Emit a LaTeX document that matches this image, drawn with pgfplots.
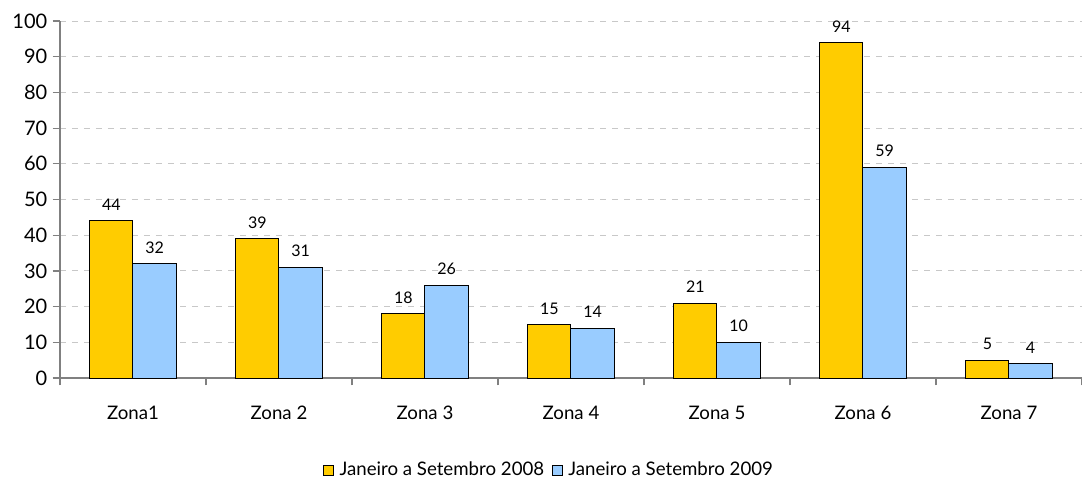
\documentclass[border=0pt]{standalone}
\usepackage{pgfplots}
\pgfplotsset{compat=1.18}
\usepackage{fontspec}
\setmainfont{Lato}
\definecolor{yel}{HTML}{FFCC00}
\definecolor{blu}{HTML}{99CCFF}
\definecolor{gridc}{HTML}{C8C8C8}
\definecolor{axc}{HTML}{808080}
\begin{document}
\begin{tikzpicture}[x=0.75pt,y=0.75pt]
\begin{axis}[
  at={(0,0)}, anchor=south west,
  scale only axis,
  width=766.5pt, height=267.75pt,
  xmin=-0.5, xmax=6.5, ymin=0, ymax=100,
  ybar=0pt, bar width=0.295,
  axis x line*=bottom, axis y line*=left,
  axis line style={axc, line width=0.9pt, -},
  xtick={-0.5,0.5,...,6.5},
  x tick label as interval,
  xticklabels={Zona1,Zona 2,Zona 3,Zona 4,Zona 5,Zona 6,Zona 7},
  ytick={0,10,...,100},
  tick style={axc, line width=0.9pt},
  major tick length=5.5pt,
  tick align=outside,
  ymajorgrids,
  grid style={gridc, dash pattern=on 4.5pt off 4.5pt, line width=0.75pt},
  /pgf/number format/assume math mode=true,
  yticklabel style={font=\fontsize{15}{17}\selectfont, xshift=-0.5pt},
  xticklabel style={font=\fontsize{14}{16}\selectfont, yshift=-12pt},
  nodes near coords,
  every node near coord/.append style={font=\fontsize{12}{14}\selectfont, yshift=4pt, black},
  legend style={at={(0.479,-0.258)}, anchor=center, draw=none, legend columns=2,
    font=\fontsize{14}{16}\selectfont, column sep=2pt,
    /tikz/every even column/.append style={column sep=4pt}},
  legend image code/.code={\draw[#1, draw=black, line width=0.6pt] (0pt,-4pt) rectangle (7.5pt,3.5pt);},
]
\addplot[fill=yel, draw=black, line width=0.75pt] coordinates {(0,44) (1,39) (2,18) (3,15) (4,21) (5,94) (6,5)};
\addplot[fill=blu, draw=black, line width=0.75pt] coordinates {(0,32) (1,31) (2,26) (3,14) (4,10) (5,59) (6,4)};
\legend{Janeiro a Setembro 2008, Janeiro a Setembro 2009}
\end{axis}
\pgfresetboundingbox
\path[use as bounding box] (-60,-102) rectangle (1022,378);
\end{tikzpicture}
\end{document}
